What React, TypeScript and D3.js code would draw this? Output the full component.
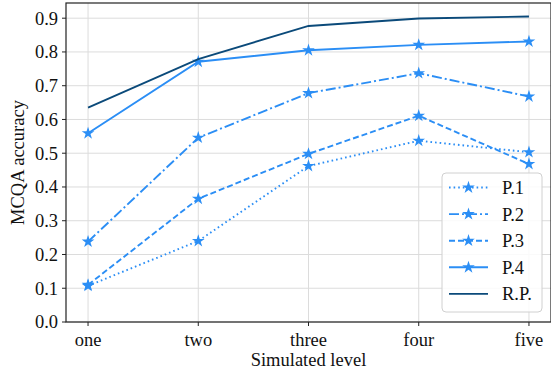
import React from "react";
import * as d3 from "d3";

const categories = ["one", "two", "three", "four", "five"];
const p1 = [0.107, 0.240, 0.462, 0.537, 0.503];
const p2 = [0.238, 0.546, 0.678, 0.737, 0.668];
const p3 = [0.110, 0.365, 0.498, 0.611, 0.468];
const p4 = [0.559, 0.771, 0.805, 0.821, 0.831];
const rp = [0.635, 0.779, 0.877, 0.899, 0.905];
const yTicks = [0, 0.1, 0.2, 0.3, 0.4, 0.5, 0.6, 0.7, 0.8, 0.9];

const LIGHT = "#2b8ef5";
const DARK = "#0b4a7a";

const series = [
  { name: "P.1", values: p1, color: LIGHT, dash: "1.6 3", marker: true },
  { name: "P.2", values: p2, color: LIGHT, dash: "10 3 2 3", marker: true },
  { name: "P.3", values: p3, color: LIGHT, dash: "6 3", marker: true },
  { name: "P.4", values: p4, color: LIGHT, dash: null, marker: true },
  { name: "R.P.", values: rp, color: DARK, dash: null, marker: false },
];

export default function App() {
  const W = 551, H = 373;
  const left = 66, right = 551, top = 3, bottom = 322;
  const x = d3.scaleLinear().domain([-0.2, 4.2]).range([left, right]);
  const y = d3.scaleLinear().domain([0, 0.945]).range([bottom, top]);
  const line = d3.line<number>().x((_, i) => x(i)).y((d) => y(d));
  const star = d3.symbol().type(d3.symbolStar).size(50)();
  const font = "'Liberation Serif', 'Times New Roman', serif";
  const fs = 18.5;

  const legX = 442, legY = 173, legW = 100, legH = 139;
  const rowH = 26.6;

  return (
    <svg width={W} height={H} style={{ position: "absolute", left: 0, top: 0 }} fontFamily={font}>
      <rect width={W} height={H} fill="#fff" />
      {/* grid */}
      {yTicks.map((t) => (
        <line key={"gy" + t} x1={left} x2={right} y1={y(t)} y2={y(t)} stroke="#dcdcdc" strokeWidth={1} />
      ))}
      {categories.map((c, i) => (
        <line key={"gx" + c} x1={x(i)} x2={x(i)} y1={top} y2={bottom} stroke="#dcdcdc" strokeWidth={1} />
      ))}
      {/* lines */}
      {series.map((s) => (
        <g key={s.name}>
          <path d={line(s.values) || ""} fill="none" stroke={s.color} strokeWidth={1.9}
            strokeDasharray={s.dash || undefined} />
          {s.marker && s.values.map((v, i) => (
            <path key={i} d={star || ""} transform={`translate(${x(i)},${y(v)})`} fill={s.color} />
          ))}
        </g>
      ))}
      {/* spines */}
      <rect x={left} y={top} width={right - left} height={bottom - top} fill="none" stroke="#222" strokeWidth={1.2} />
      {/* y ticks */}
      {yTicks.map((t) => (
        <g key={"yt" + t}>
          <line x1={left - 4} x2={left} y1={y(t)} y2={y(t)} stroke="#222" strokeWidth={1} />
          <text x={left - 8} y={y(t)} dy="0.35em" textAnchor="end" fontSize={fs} fill="#111">{t.toFixed(1)}</text>
        </g>
      ))}
      {/* x ticks */}
      {categories.map((c, i) => (
        <g key={"xt" + c}>
          <line x1={x(i)} x2={x(i)} y1={bottom} y2={bottom + 4} stroke="#222" strokeWidth={1} />
          <text x={x(i)} y={346} textAnchor="middle" fontSize={fs} fill="#111">{c}</text>
        </g>
      ))}
      <text x={(left + right) / 2} y={366} textAnchor="middle" fontSize={fs} fill="#111">Simulated level</text>
      <text transform={`translate(24,${(top + bottom) / 2}) rotate(-90)`} textAnchor="middle" fontSize={fs} fill="#111">MCQA accuracy</text>
      {/* legend */}
      <rect x={legX} y={legY} width={legW} height={legH} rx={4} fill="#fff" fillOpacity={0.85} stroke="#d0d0d0" strokeWidth={1} />
      {series.map((s, i) => {
        const cy = legY + 14.5 + i * rowH;
        return (
          <g key={"lg" + s.name}>
            <line x1={449} x2={488} y1={cy} y2={cy} stroke={s.color} strokeWidth={1.9} strokeDasharray={s.dash || undefined} />
            {s.marker && <path d={star || ""} transform={`translate(468.5,${cy})`} fill={s.color} />}
            <text x={502} y={cy} dy="0.35em" fontSize={fs} fill="#111">{s.name}</text>
          </g>
        );
      })}
    </svg>
  );
}
